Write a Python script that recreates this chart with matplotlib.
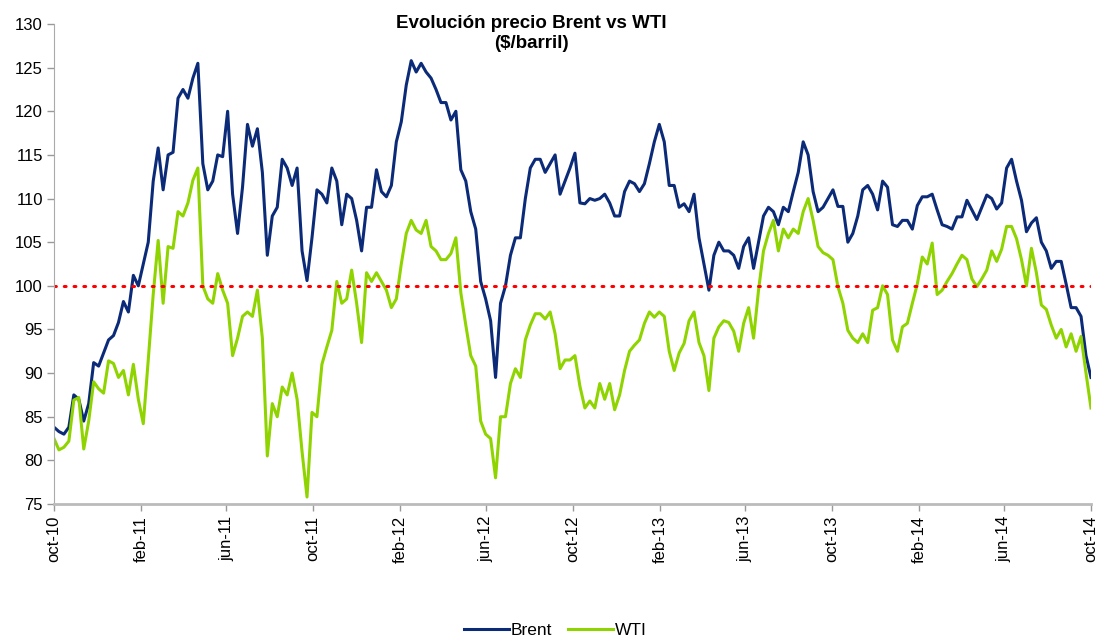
import matplotlib
matplotlib.use('Agg')
import matplotlib.pyplot as plt
import numpy as np
import pandas as pd

plt.rcParams['font.family'] = ['Liberation Sans', 'DejaVu Sans']

# weekly readings of the chart, oct-10 -> oct-14
brent = [
    83.8, 83.3, 83.0, 83.8, 87.5, 87.0, 84.5, 86.5, 91.2, 90.8,
    92.3, 93.8, 94.3, 95.8, 98.2, 97.0, 101.2, 100.0, 102.5, 105.0,
    112.0, 115.8, 111.0, 115.0, 115.3, 121.5, 122.5, 121.5, 123.8, 125.5,
    114.0, 111.0, 112.0, 115.0, 114.8, 120.0, 110.5, 106.0, 111.3, 118.5,
    116.0, 118.0, 113.0, 103.5, 108.0, 109.0, 114.5, 113.5, 111.5, 113.5,
    104.0, 100.6, 105.5, 111.0, 110.5, 109.5, 113.5, 112.0, 107.0, 110.5,
    110.0, 107.5, 104.0, 109.0, 109.0, 113.3, 110.8, 110.2, 111.5, 116.5,
    118.8, 123.0, 125.8, 124.5, 125.5, 124.5, 123.8, 122.5, 121.0, 121.0,
    119.0, 120.0, 113.3, 112.0, 108.5, 106.5, 100.5, 98.5, 96.0, 89.5,
    98.0, 100.0, 103.5, 105.5, 105.5, 110.0, 113.5, 114.5, 114.5, 113.0,
    114.0, 115.0, 110.5, 112.0, 113.5, 115.2, 109.5, 109.4, 110.0, 109.8,
    110.0, 110.5, 109.5, 108.0, 108.0, 110.8, 112.0, 111.7, 110.8, 111.7,
    114.0, 116.5, 118.5, 116.5, 111.5, 111.5, 109.0, 109.4, 108.5, 110.5,
    105.5, 102.5, 99.5, 103.5, 105.0, 104.0, 104.0, 103.5, 102.0, 104.5,
    105.5, 102.0, 105.0, 108.0, 109.0, 108.5, 107.0, 109.0, 108.5, 110.8,
    113.0, 116.5, 115.0, 110.8, 108.5, 109.0, 110.0, 111.0, 109.1, 109.1,
    105.0, 106.0, 108.0, 111.0, 111.5, 110.5, 108.7, 112.0, 111.3, 107.0,
    106.8, 107.5, 107.5, 106.5, 109.2, 110.2, 110.2, 110.5, 108.7, 107.0,
    106.8, 106.5, 107.9, 107.9, 109.8, 108.7, 107.6, 109.0, 110.4, 110.0,
    108.8, 109.5, 113.5, 114.5, 112.0, 109.8, 106.2, 107.2, 107.8, 105.0,
    104.0, 102.0, 102.8, 102.8, 100.2, 97.5, 97.5, 96.5, 92.0, 89.5,
]
wti = [
    82.5, 81.2, 81.5, 82.2, 86.9, 87.2, 81.3, 84.5, 89.0, 88.2,
    87.7, 91.4, 91.1, 89.5, 90.3, 87.5, 91.0, 87.0, 84.2, 91.5,
    99.0, 105.2, 98.0, 104.5, 104.3, 108.5, 108.0, 109.5, 112.1, 113.5,
    100.0, 98.5, 98.0, 101.4, 99.5, 98.0, 92.0, 94.0, 96.5, 97.0,
    96.5, 99.5, 94.0, 80.5, 86.5, 85.0, 88.4, 87.5, 90.0, 87.0,
    81.0, 75.8, 85.5, 85.0, 91.0, 93.0, 94.9, 100.5, 98.0, 98.5,
    101.8, 98.0, 93.5, 101.5, 100.5, 101.5, 100.5, 99.5, 97.5, 98.5,
    102.5, 106.0, 107.5, 106.4, 106.0, 107.5, 104.5, 104.0, 103.0, 103.0,
    103.7, 105.5, 99.2, 95.5, 92.0, 90.8, 84.5, 83.0, 82.5, 78.0,
    85.0, 85.0, 88.8, 90.5, 89.5, 93.8, 95.5, 96.8, 96.8, 96.2,
    97.0, 94.5, 90.5, 91.5, 91.5, 92.0, 88.5, 86.0, 86.8, 86.0,
    88.8, 87.0, 88.8, 85.8, 87.5, 90.3, 92.5, 93.2, 93.8, 95.7,
    97.0, 96.4, 97.0, 96.5, 92.5, 90.3, 92.3, 93.4, 96.0, 97.0,
    93.5, 92.0, 88.0, 94.0, 95.3, 96.0, 95.8, 94.8, 92.5, 95.7,
    97.5, 94.0, 99.5, 104.0, 106.0, 107.5, 104.0, 106.5, 105.5, 106.5,
    106.0, 108.5, 110.0, 107.5, 104.5, 103.8, 103.5, 103.0, 99.9, 98.0,
    94.9, 94.0, 93.5, 94.5, 93.5, 97.2, 97.5, 100.0, 99.0, 93.8,
    92.5, 95.3, 95.7, 98.0, 100.2, 103.3, 102.5, 104.9, 99.0, 99.5,
    100.5, 101.4, 102.5, 103.5, 103.0, 100.8, 99.9, 100.8, 101.8, 104.0,
    102.8, 104.2, 106.8, 106.8, 105.4, 103.0, 100.0, 104.3, 101.5, 97.8,
    97.3, 95.5, 94.0, 95.0, 93.0, 94.5, 92.5, 94.2, 90.0, 86.0,
]
tick_labels = ['oct-10', 'feb-11', 'jun-11', 'oct-11', 'feb-12', 'jun-12', 'oct-12',
               'feb-13', 'jun-13', 'oct-13', 'feb-14', 'jun-14', 'oct-14']

dates = pd.date_range('2010-10-01', '2014-10-01', periods=len(brent))
tick_dates = pd.date_range('2010-10-01', '2014-10-01', freq='4MS')

fig = plt.figure(figsize=(10.97, 6.39), dpi=100)
ax = fig.add_axes([0.0492, 0.2113, 0.9453, 0.7511])

ax.plot(dates, brent, color='#0b2a78', lw=2.2, label='Brent')
ax.plot(dates, wti, color='#8fd400', lw=2.2, label='WTI')
ax.axhline(100, color='#ff0000', lw=2.2, ls=(0, (0.6, 2.6)), dash_capstyle='round')

ax.set_xlim(tick_dates[0], tick_dates[-1])
ax.set_ylim(75, 130)
ax.set_yticks(np.arange(75, 131, 5))
ax.set_xticks(tick_dates)
ax.set_xticklabels(tick_labels, rotation=90)
ax.tick_params(axis='both', labelsize=12, colors='#999999', labelcolor='black', length=5, width=1)
ax.tick_params(axis='y', pad=3)

for s in ['top', 'right']:
    ax.spines[s].set_visible(False)
ax.spines['left'].set_color('#aaaaaa')
ax.spines['bottom'].set_color('#bbbbbb')
ax.spines['bottom'].set_linewidth(2)

fig.text(0.484, 0.948, 'Evolución precio Brent vs WTI\n($/barril)', ha='center', va='center',
         fontsize=13.5, fontweight='bold', linespacing=1.22)

fig.legend(handles=ax.get_lines()[:2], loc='center', bbox_to_anchor=(0.506, 0.013),
           ncol=2, frameon=False, fontsize=12.5, handlelength=2.6, handletextpad=0.1,
           columnspacing=0.9)

fig.savefig('out.png', dpi=100)
